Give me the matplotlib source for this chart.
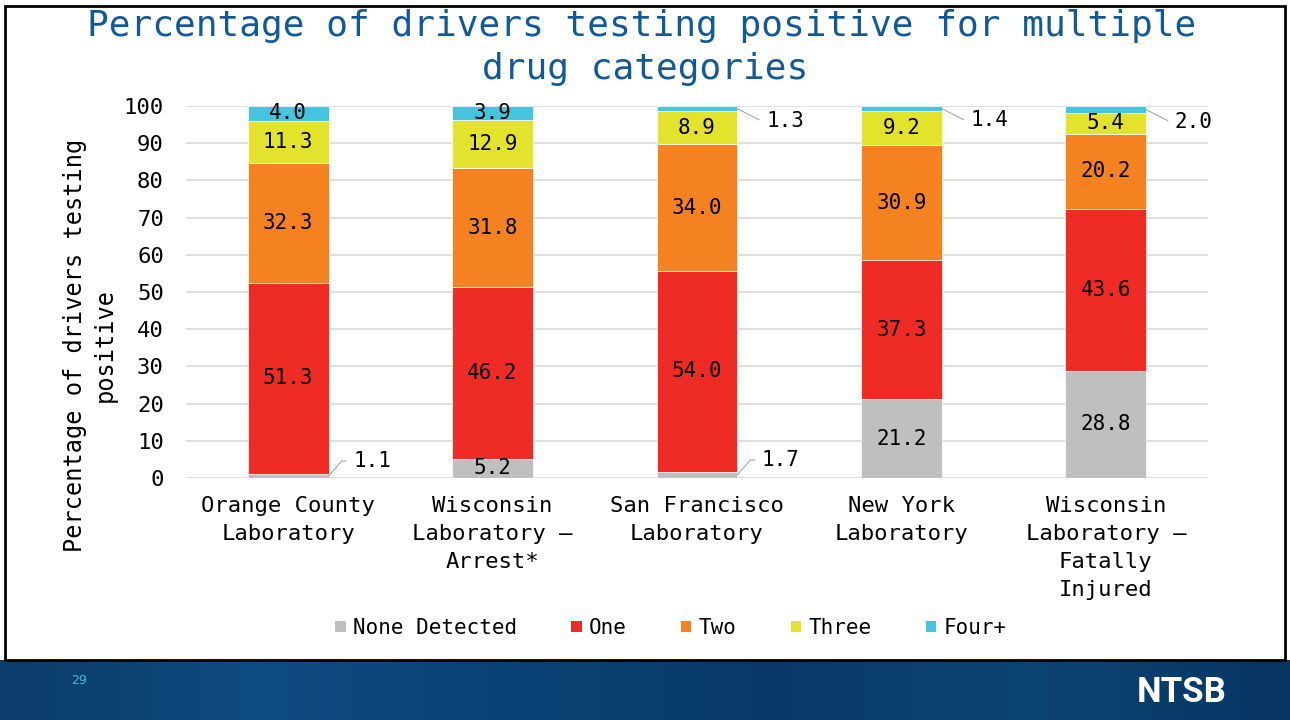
import matplotlib.pyplot as plt
from matplotlib.patches import Patch, Rectangle
from matplotlib.colors import LinearSegmentedColormap
import numpy as np

categories = ['Orange County\nLaboratory', 'Wisconsin\nLaboratory \u2013\nArrest*', 'San Francisco\nLaboratory',
              'New York\nLaboratory', 'Wisconsin\nLaboratory \u2013\nFatally\nInjured']
series_names = ['None Detected', 'One', 'Two', 'Three', 'Four+']
none_detected = [1.1, 5.2, 1.7, 21.2, 28.8]
one = [51.3, 46.2, 54.0, 37.3, 43.6]
two = [32.3, 31.8, 34.0, 30.9, 20.2]
three = [11.3, 12.9, 8.9, 9.2, 5.4]
four_plus = [4.0, 3.9, 1.3, 1.4, 2.0]
yticks = [0, 10, 20, 30, 40, 50, 60, 70, 80, 90, 100]

series = [none_detected, one, two, three, four_plus]
colors = ['#BFBFBF', '#EE2B24', '#F58220', '#E3E22D', '#44C5DD']
mono = 'DejaVu Sans Mono'
title_color = '#12599A'

fig = plt.figure(figsize=(12.9, 7.2), dpi=100)
ax = fig.add_axes([0.1442, 0.3361, 0.7922, 0.5167])

x = np.arange(len(categories))
width = 0.396
bottom = np.zeros(len(categories))
for k, (vals, col) in enumerate(zip(series, colors)):
    vals = np.array(vals)
    ax.bar(x, vals, width, bottom=bottom, color=col, edgecolor='white', linewidth=0.5,
           label=series_names[k], zorder=2)
    for i, v in enumerate(vals):
        yc = bottom[i] + v / 2
        if v >= 3:
            ax.text(x[i], yc, '%.1f' % v, ha='center', va='center', fontsize=15, family=mono, zorder=3)
        else:
            # small segments get a label outside the bar with a leader line
            if k == 0:
                dx, dy, ang = 0.12, 4.0, 49
            else:
                dx, dy, ang = 0.14, -3.2, -27
            ax.annotate('%.1f' % v, xy=(x[i] + width / 2, yc), xytext=(x[i] + width / 2 + dx, yc + dy),
                        ha='left', va='center', fontsize=15, family=mono, zorder=3,
                        arrowprops=dict(arrowstyle='-', color='#A6A6A6', lw=0.8, shrinkA=3, shrinkB=0,
                                        relpos=(0, 0.5),
                                        connectionstyle='angle,angleA=0,angleB=%d,rad=0' % ang))
    bottom += vals

ax.set_xlim(-0.5, len(categories) - 0.5)
ax.set_ylim(0, 100)
ax.set_yticks(yticks)
ax.set_xticks(x)
ax.set_xticklabels(categories, fontsize=16, family=mono, linespacing=1.5)
ax.set_yticklabels([str(t) for t in yticks], fontsize=16, family=mono)
ax.tick_params(axis='y', length=0, pad=16)
ax.tick_params(axis='x', length=0, pad=13)
ax.grid(axis='y', color='#D9D9D9', linewidth=1.2, zorder=0)
ax.set_axisbelow(True)
for s in ax.spines.values():
    s.set_visible(False)
ax.set_ylabel('Percentage of drivers testing\npositive', fontsize=17, family=mono, linespacing=1.3)
ax.yaxis.set_label_coords(-0.068, 0.357)

handles = [Patch(facecolor=c, edgecolor='none') for c in colors]
fig.legend(handles, series_names, loc='center', bbox_to_anchor=(0.52, 0.128), ncol=5, frameon=False,
           prop={'family': mono, 'size': 15}, handlelength=0.5, handleheight=0.5, handletextpad=0.35,
           columnspacing=2.6)

fig.text(0.497, 1 - 36 / 720, 'Percentage of drivers testing positive for multiple', ha='center',
         va='baseline', fontsize=26, family=mono, color=title_color)
fig.text(0.5, 1 - 79 / 720, 'drug categories', ha='center', va='baseline', fontsize=26, family=mono,
         color=title_color)

# slide frame
fig.patches.append(Rectangle((5 / 1290, 60 / 720), 1280 / 1290, 654 / 720, transform=fig.transFigure,
                             fill=False, edgecolor='black', linewidth=2))

# footer band
bax = fig.add_axes([0, 0, 1, 60 / 720])
cmap = LinearSegmentedColormap.from_list('band', ['#0B3C6A', '#0E4B80', '#0A4275', '#08396A', '#0C4474',
                                                  '#073563'])
grad = np.linspace(0, 1, 256).reshape(1, -1)
bax.imshow(grad, aspect='auto', cmap=cmap, extent=[0, 1, 0, 1])
bax.set_axis_off()
fig.text(79 / 1290, 1 - 680 / 720, '29', ha='center', va='center', fontsize=9, color='#3BBFE5')
fig.text(1182 / 1290, 1 - 692 / 720, 'NTSB', ha='center', va='center', fontsize=25, fontweight='bold',
         color='white', family=['Liberation Sans Narrow', 'Roboto'])

fig.savefig('out.png', dpi=100)
